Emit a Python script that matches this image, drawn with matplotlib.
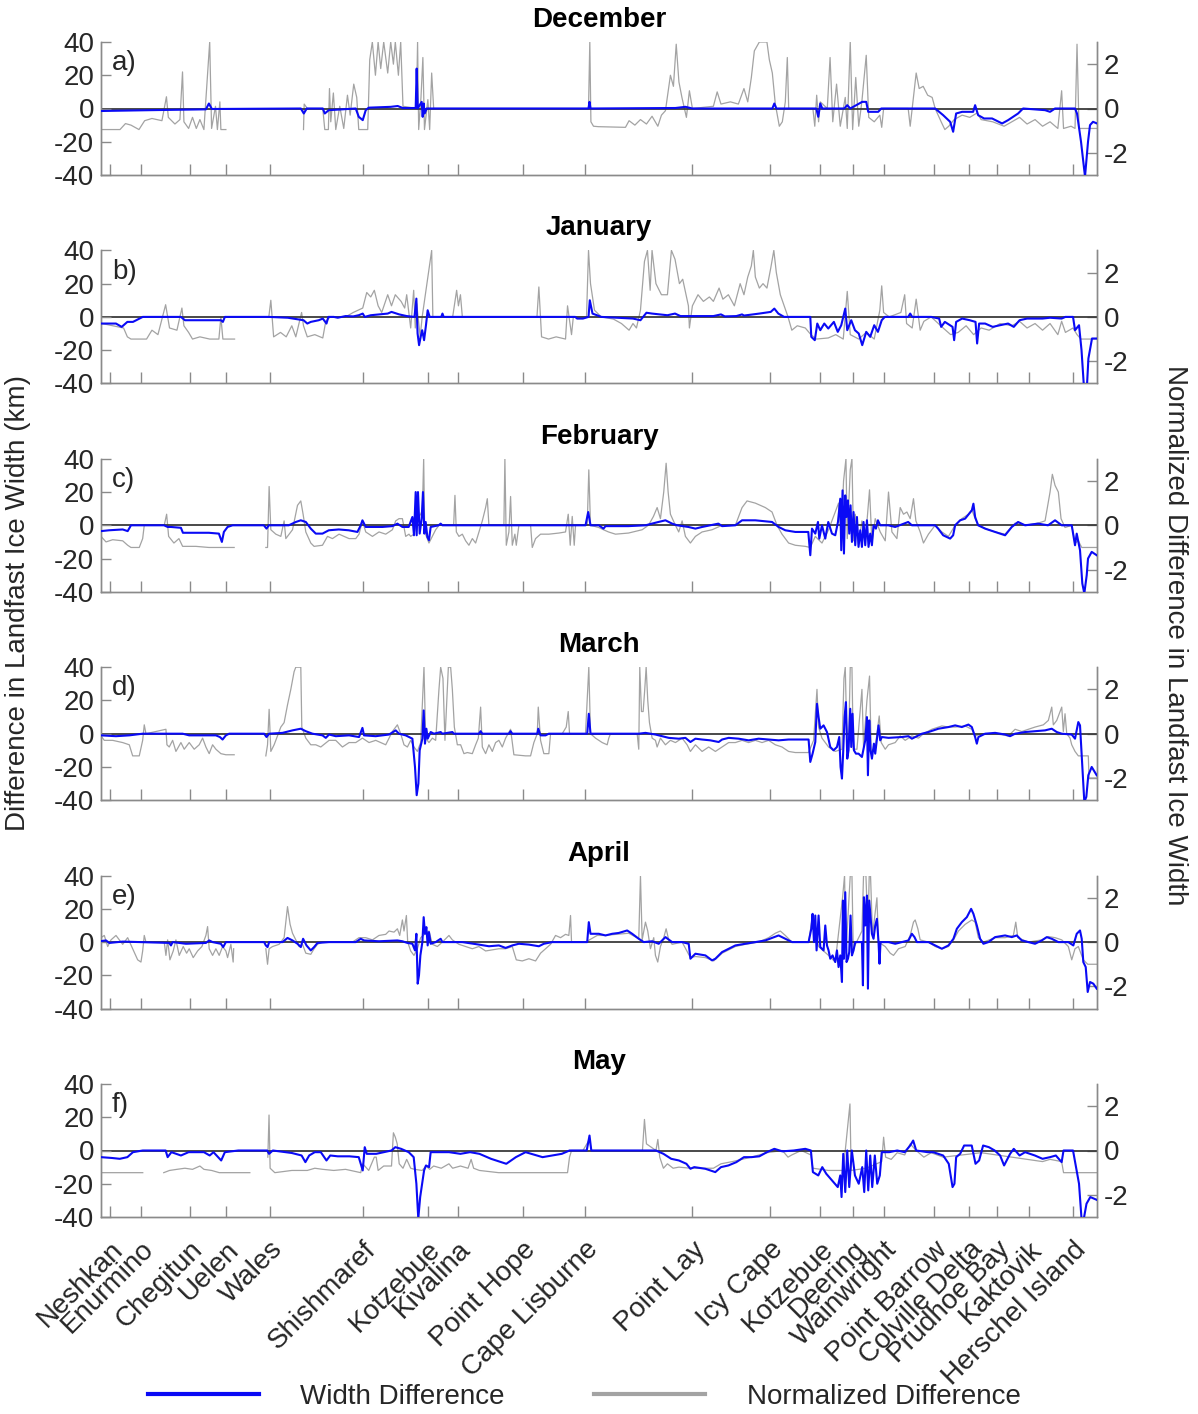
import numpy as np
import matplotlib
matplotlib.use("Agg")
import matplotlib.pyplot as plt
from matplotlib.lines import Line2D

nan = np.nan

locations = ["Neshkan", "Enurmino", "Chegitun", "Uelen", "Wales", "Shishmaref", "Kotzebue",
             "Kivalina", "Point Hope", "Cape Lisburne", "Point Lay", "Icy Cape", "Kotzebue",
             "Deering", "Wainwright", "Point Barrow", "Colville Delta", "Prudhoe Bay",
             "Kaktovik", "Herschel Island"]
location_pos = [9, 40, 89, 125, 169, 262, 327, 357, 422, 484, 592, 670, 720, 753, 784,
                834, 869, 897, 929, 973]
months = ["December", "January", "February", "March", "April", "May"]
panel_tags = ["a)", "b)", "c)", "d)", "e)", "f)"]

# (coast position, width difference km)
dec_width = [(0,-1.5),(50,-1),(105,-0.5),(108,3),(111,-0.3),(200,0),(203,-3),(206,0),(222,0),(224,-3),(228,-1),(255,0),(258,-5),(262,-7),(265,-1),(268,0.5),(290,1),(297,1.5),(302,0.3),(315,0.3),(316,24),(317,0),(321,4),(322,-5),(323,3),(324,-3),(326,0),(488,0),(489,4),(490,0),(575,0.3),(585,1),(592,0),(672,0),(674,3),(676,0),(716,0),(718,-5),(720,3),(722,0),(744,0),(747,2),(750,0),(762,4),(766,4),(768,-2),(778,-2),(781,0),(835,0),(843,-4),(850,-8),(853,-14),(856,-3),(862,-2),(873,-2),(875,2),(878,-4),(884,-6),(892,-6),(902,-9),(908,-7),(918,-3),(923,0),(945,-1),(950,-2),(955,0),(975,0),(977,-3),(981,-20),(985,-41),(988,-20),(990,-10),(993,-8),(997,-9)]
# (coast position, normalized difference)
dec_norm = [(1,-0.95),(19,-0.95),(24.5,-0.68),(30,-0.75),(38,-0.95),(43.7,-0.55),(51,-0.45),(61,-0.55),(65.5,0.53),(67.4,-0.4),(74,-0.7),(79,-0.5),(81.6,1.65),(83,-0.6),(87.7,-0.9),(91.6,-0.4),(95.4,-0.9),(99,-0.5),(103,-0.95),(108.8,3.0),(110.7,-0.9),(114.6,0.1),(116.5,-0.95),(119,0.3),(120,-0.95),(125,-0.95),(125.5,nan),(202.7,-0.95),(203.4,0.2),(206.5,0),(222,0),(224,-0.95),(227.6,-0.95),(228.7,0.9),(230,-0.6),(232.6,0.7),(235,-0.95),(239,0.1),(243,-0.9),(246.7,0.6),(249.4,-0.3),(253,1.1),(256,0.5),(258,-0.95),(267,-0.95),(269,2.2),(271.6,3.0),(274.7,1.5),(277.4,3.0),(280,1.8),(283,3.0),(287,1.6),(290,3.0),(292.7,2.0),(294.6,3.0),(297.7,1.5),(300,3.0),(302.3,0.1),(315.7,0),(316.9,3.0),(318,-0.95),(320.3,0.5),(322.2,2.3),(323.8,-0.95),(327.2,0.4),(329,-0.95),(331,1.6),(333,0),(488,0),(489.3,3.0),(490.4,-0.6),(493,-0.8),(498,-0.82),(525,-0.85),(528.6,-0.55),(534.4,-0.75),(540,-0.5),(546,-0.7),(551.6,-0.35),(557.4,-0.8),(561,-0.3),(565,-0.1),(570,1.5),(573,1.0),(575.8,2.9),(578.5,1.2),(581.5,0.5),(586,-0.4),(589,0.8),(592,0),(613,0.1),(616.8,0.75),(620.6,0.2),(630,0.3),(638,0.2),(643.6,0.9),(647.4,0.3),(651,1.4),(654,2.6),(659,3.0),(666.6,3.0),(669,2.2),(672,1.6),(675,0.2),(679,-0.8),(682,-0.6),(685,0.3),(687,2.3),(688.4,0),(712.6,0),(714.5,-0.8),(716.4,0.6),(718.3,-0.6),(720,0.3),(727,0),(729.8,2.3),(732.5,-0.6),(736.3,1.1),(740,-0.8),(745,0.5),(747,-0.9),(750,3.0),(752.4,-0.95),(755.5,1.4),(758.5,-0.8),(761.6,0.3),(766,2.4),(768.5,-0.4),(774,-0.6),(779.6,-0.3),(781.5,-0.85),(783.4,0),(808,0),(810,-0.8),(812,0),(816,1.6),(819,0.9),(823,1.0),(827.5,0.6),(832,0.5),(835,0),(841,-0.6),(844.7,-0.95),(848.6,-0.8),(854,-0.5),(862,-0.3),(869.6,-0.4),(877,-0.2),(881,-0.5),(892.6,-0.6),(904,-0.8),(911.8,-0.6),(919.5,-0.4),(927,-0.7),(935,-0.5),(942.5,-0.8),(950,-0.6),(957.8,-0.9),(961.6,0.8),(963.5,-0.9),(971,-0.8),(975,-0.9),(977,2.9),(979,-0.9),(998,-0.9)]

jan_width = [(0,-4),(15,-4),(20.7,-6),(26.4,-3),(32,-3),(41.8,0),(80,0),(84,-2),(107,-2),(120,-2),(122,-3),(124,0),(168,0),(187,-0.5),(202.7,-2),(206.5,-4),(210,-3),(218,-2),(222,-1),(225.7,-4),(227.6,0),(233,0),(237,-0.5),(244.8,0.5),(252.5,0.3),(258,1),(262,2),(264,0),(270,1),(279,1.5),(287,2),(290.8,3),(298.5,1.5),(306,0.5),(313.8,0),(315.7,11),(316.9,-10),(318.4,-17),(320,-12),(321.5,-8),(323.4,-14),(325.3,-5),(327,4),(329,0),(340.6,0),(341.8,2),(343,0),(474.7,0),(476.6,-1),(482.4,-1),(488,0),(489.3,10),(492,2),(500.8,0),(532.5,-1),(540,-2),(546,2.5),(551.6,2),(567,1),(574.6,2),(580,0.5),(613,0.5),(620.6,1.5),(624.4,0.3),(636,0.5),(641.7,1.5),(643.6,0.8),(659,2),(670.4,3),(674,5),(678,2),(683.8,0),(710,0),(711,-12),(714.5,-14),(717,-4),(720,-8),(724,-4),(728,-7),(733.6,-3),(737.5,-9),(741,-5),(745,5),(747,-8),(751,-2),(754.7,-8),(758.5,-10),(762,-17),(766,-9),(770,-12),(774,-5),(777.7,-9),(781.5,-2),(784.6,0),(808,0),(810,2),(812,0),(831,0),(839,-1),(841,-6),(844.7,-3),(852.4,-6),(854,-14),(856,-3),(862,-1),(869.6,-2),(875.4,-3),(877,-16),(879,-4),(885,-4),(892.6,-6),(900,-5),(908,-4),(913.7,-6),(919.5,-2),(927,-1),(942.5,-1),(950,-0.5),(961.6,-1),(965.4,0),(973,0),(975,-8),(979,-5),(981.5,-20),(983.8,-41),(987,-41),(988.4,-25),(992,-13),(998,-13)]
jan_norm = [(1,-0.3),(22.6,-0.5),(26.4,-0.9),(30,-1.0),(45.6,-1.0),(51,-0.6),(57,-0.8),(64.7,0.55),(68.6,-0.5),(76,-0.6),(81,0.4),(83,-0.4),(87.7,-0.7),(91.6,-1.0),(99,-0.9),(108.8,-1.0),(118,-1.0),(120,0),(122,-1.0),(133.7,-1.0),(134,nan),(168,0),(170,0.75),(172.8,-0.9),(179.7,-0.7),(185.4,-0.9),(191,-0.4),(195,-0.9),(200.8,0.2),(202.7,-0.4),(206.5,-0.9),(214,-0.8),(222,-0.95),(225,-0.2),(229.5,0),(244.8,0),(252.5,0.2),(262,0.4),(266,1.1),(270,0.9),(273.6,1.2),(277.4,0.5),(281,0.2),(287,1.0),(290.8,0.5),(294.6,1.0),(300.4,0.7),(304,0.4),(306,1.0),(310,-0.5),(313,1.2),(314.6,-0.5),(316,0.6),(319.5,-0.9),(321.5,0),(331,3.0),(332.2,0),(352,0),(356,1.2),(357.8,0.5),(359.8,1.0),(361.7,0),(436.4,0),(438.3,1.35),(441,-0.9),(448,-1.0),(455.6,-0.9),(465,-1.0),(467,0.5),(471,-0.8),(472.8,0),(486,0),(488,3.0),(490,1.5),(494,0.3),(500.8,0),(513,-0.1),(521,-0.3),(528.6,-0.6),(532.5,-0.3),(536,-0.5),(540,0.3),(544,2.5),(547,3.0),(549.7,1.2),(551.6,3.0),(555.5,1.5),(561,1.0),(567,1.0),(571,3.0),(574.6,2.6),(579,1.5),(582.3,1.7),(588,0.5),(589,-0.5),(592,0.5),(597.6,1.0),(603,0.7),(609,0.9),(613,0.7),(618.7,1.3),(622.5,0.8),(628,1.0),(634,0.5),(639.8,1.5),(643.6,1.0),(647.4,1.8),(651,2.3),(653,3.0),(655,1.8),(659,1.3),(662.7,1.5),(666.6,1.3),(670.4,2.2),(673.5,3.0),(676,2.0),(680,1.0),(683.8,0.5),(687.7,0),(691.5,-0.6),(697,-0.4),(705,-0.5),(710.6,-0.8),(716,-1.0),(728,-0.95),(735.5,-0.8),(743,-1.0),(747,1.15),(750,-0.8),(758.5,-1.0),(766,-0.7),(774,-1.0),(779.6,0.3),(781.5,1.4),(783.4,0.2),(789,0),(800.7,0.2),(804.5,1.0),(806.4,-0.3),(812,-0.5),(816,0.8),(820,-0.6),(823.7,-0.2),(831,0),(843,-0.5),(850.5,-0.8),(858,-0.7),(866,-0.4),(873.5,-0.8),(881,-0.5),(889,-0.6),(900,-0.3),(911.8,-0.4),(919.5,-0.2),(927,-0.5),(935,-0.3),(942.5,-0.6),(950,-0.3),(957.8,-0.8),(961.6,-0.2),(965.4,-0.7),(973,-0.5),(977,-0.8),(981,-1.0),(998,-1.0)]

feb_width = [(0,-3.5),(8,-3),(21.7,-2.5),(26.7,-3.5),(30,0),(63,0),(66.7,-1),(70,-1),(80,-1.5),(82,-4.5),(95,-4.5),(108,-4.5),(118,-5),(121,-10),(123,-4),(126.7,-1),(131.7,0),(163,0),(165.7,-2),(168,0),(188,0),(195,2),(200,3),(205,2),(210,-2),(215,-5),(221.7,-5),(228,-3),(238,-2.5),(248,-3),(256.7,-4),(260,0),(261.7,3),(265,-1),(271.7,-1),(281.7,-1),(291.7,-0.5),(296.7,1),(301.7,-1),(308,-1),(311.7,5),(313.3,-6),(315,20),(316,-6),(317.3,20),(319,-5),(321,4),(322.3,20),(323.7,-5),(325,2),(326.7,-7),(328.3,-9),(330,-1),(338,0),(340,1),(341.7,0),(485,0),(487.7,8),(490,0),(498.3,0),(503,-2),(505,-0.5),(528,-0.5),(545,0),(558,2),(565,3),(571.7,1),(576.7,0),(588,-1),(595,-2),(601.7,-1),(618,1),(621.7,-0.5),(635,0),(641.7,3),(655,3),(671.7,2),(678.3,-1),(685,-3),(695,-4),(708,-4),(710,-18),(711.7,-2),(715,-5),(717.7,2),(719,-8),(721.7,0),(725,-8),(728,2),(731.7,-5),(735,-6),(737.7,2),(740,16),(741,-15),(742.3,21),(743.7,-17),(745,18),(746.3,5),(747.7,15),(749,-5),(750.3,12),(751.7,-10),(753.3,8),(755,-12),(756.7,5),(758.3,-13),(760,-3),(761.7,-13),(763.3,2),(765,-12),(766.7,3),(768.3,-13),(770,-5),(771.7,-12),(773.3,0),(775.7,-2),(777.7,3),(780,0),(788,0),(795,-1),(808,2),(811.7,0),(835,0),(838,-2),(843,-6),(850,-8),(853,-6),(855,0),(860,3),(865,4),(871.7,9),(873.3,13),(875,5),(878,0),(885,-2),(895,-4),(905,-6),(911.7,-1),(918,2),(925,0),(938,1),(948,0),(955,3),(961.7,0),(971.7,0),(975,-12),(976.7,-5),(980,-15),(982.3,-35),(984.3,-41),(986.7,-30),(988,-20),(991.7,-16),(996.7,-18)]
feb_norm = [(0,-0.5),(5,-0.75),(11.7,-0.65),(21.7,-0.7),(26.7,-0.9),(30,-1.0),(38.3,-1.0),(41.7,-0.6),(43.3,0),(63.3,0),(65.7,0.5),(67.7,-0.5),(73,-0.8),(78,-0.6),(81.7,-0.95),(95,-0.95),(108,-1.0),(121.7,-1.0),(133.3,-1.0),(134,nan),(165,-1.0),(166.7,-1.0),(168.3,1.75),(170,-0.2),(175,-0.4),(180,-0.5),(183.3,0.2),(185,-0.6),(191.7,-0.2),(196.7,0.9),(200,1.1),(202.3,0.5),(205,-0.3),(210,-0.8),(213.3,-0.95),(221.7,-0.9),(226.7,-0.5),(231.7,-0.6),(238.3,-0.4),(248.3,-0.6),(255,-0.6),(258.3,-0.4),(261.7,0.2),(265,-0.3),(271.7,-0.5),(278.3,-0.3),(285,-0.4),(291.7,-0.2),(295,0.2),(298.3,0.3),(301.7,0.3),(305,-0.5),(308.3,-0.4),(310,-0.5),(313.3,-0.4),(316.7,0.3),(320,0.5),(321.7,0.7),(323,3.0),(324,-0.3),(328.3,-0.8),(331.7,-0.5),(335,-0.2),(338.3,0),(353,0),(354.3,1.35),(355.7,-0.3),(358.3,-0.5),(361.7,-0.4),(365,-0.7),(368.3,-0.9),(371.7,-0.6),(375,-0.8),(378.3,-0.3),(381.7,0.2),(385,0.8),(386.7,1.2),(388.3,0),(403.3,0),(404.3,3.0),(405.7,-0.9),(408.3,-0.3),(410,1.3),(411.7,-0.9),(414.3,-0.4),(415.7,-0.9),(418.3,0),(430,0),(431.7,-1.0),(435,-0.6),(440,-0.4),(448.3,-0.4),(458.3,-0.35),(465,-0.3),(467.7,0.5),(469.7,-0.9),(471.7,0.4),(473.7,-0.9),(475,0),(486.7,0),(488.3,2.5),(490,0),(498.3,-0.1),(503,-0.2),(508,-0.3),(515,-0.4),(528,-0.35),(541.7,-0.2),(548,0),(553,0.4),(556.7,0.8),(560,0.3),(563.3,1.5),(565.7,2.8),(567.7,1.5),(570,0.5),(575,0),(578.3,-0.3),(581.7,0.2),(585,-0.5),(590,-0.8),(595,-0.5),(601.7,-0.3),(611.7,-0.2),(621.7,0),(635,0),(641.7,0.8),(646.7,1.1),(655,1.0),(665,0.8),(671.7,0.6),(676.7,0),(681.7,-0.4),(688.3,-0.8),(695,-0.9),(705,-0.95),(710,-1.0),(715,-0.5),(721.7,-0.8),(728.3,-0.2),(738.3,1.0),(741,-0.5),(743.3,2.0),(745.7,3.0),(747,-0.6),(750,2.5),(751.7,3.0),(753.3,-0.7),(755,0.5),(758.3,-0.9),(761.7,0.2),(765,-0.8),(769.3,1.6),(771.7,-0.8),(775,0.3),(780,-0.3),(785,-0.7),(788.3,1.5),(791.7,-0.3),(796.7,-0.6),(800,0.8),(803.3,0.5),(806.7,0.6),(810,0.3),(813.3,1.2),(815.7,0.2),(820,-0.3),(823.3,-0.8),(828.3,-0.4),(835,0),(841.7,-0.3),(848.3,-0.5),(855,0),(861.7,0.3),(868.3,0.5),(871.7,0.7),(875,0.3),(878.3,0),(888.3,-0.2),(895,-0.3),(905,-0.4),(915,0.1),(925,0),(938.3,0.1),(945,0.2),(950,1.5),(952.3,2.3),(955,1.8),(958.3,1.5),(961,0.3),(965,-0.1),(971.7,0),(975,-0.8),(978.3,-0.7),(981.7,-1.0),(996.7,-1.0)]

mar_width = [(0,-1),(15,-1.5),(28.3,-1),(41.7,0),(81.7,0),(88.3,-1),(115,-1),(119,-2),(121.7,-3.5),(125,-1),(128.3,0),(163.3,0),(165.7,-2),(168.3,0),(181.7,0.5),(191.7,2),(200,3),(205,1.5),(211.7,0),(221.7,-1),(225,-2.5),(228.3,-0.5),(235,-1.5),(248.3,-1),(258.3,-2),(261.7,3.5),(263.3,-1),(275,-1.5),(288.3,-0.5),(295,2),(298.3,0),(305,-1),(311.7,-3),(314.3,-20),(316,-37),(317.7,-30),(319,-10),(321.7,-3),(323,14),(324.3,-6),(325.7,3),(327,-3),(330,1),(333.3,0),(340,1),(341.7,0),(351.7,1),(353.3,0),(378.3,0),(380,1.5),(381.7,0),(408.3,0),(410,1.5),(411.7,0),(436.7,0),(437.7,3),(440,-1),(445,-1),(448.3,0),(486.7,0),(488.3,12),(490,0),(538.3,0),(545,0.5),(555,-0.5),(561.7,-1.5),(568.3,-2.5),(578.3,-3),(585,-2.5),(590,-5),(595,-3),(601.7,-3.5),(610,-4),(618.3,-5),(621.7,-3.5),(628.3,-2.5),(638.3,-3),(648.3,-4),(658.3,-3),(668.3,-3.5),(678.3,-4),(688.3,-3.5),(698.3,-3.5),(708.3,-3.5),(710,-17),(712.3,-12),(715,-5),(716.7,18),(718.3,10),(720,3),(723.3,5),(726.7,1),(730,-8),(733.3,-10),(736.7,-8),(739,-2),(740.3,-20),(741.7,-27),(743,-10),(744.3,10),(745.7,19),(747,-15),(748.3,-10),(750,15),(751,-8),(752.3,12),(753.7,-10),(755.7,-12),(758.3,-12),(761.7,-14),(763.7,-8),(765,-4),(766.7,10),(767.7,-25),(769,8),(770.3,-10),(771.7,-15),(773.7,-6),(775,-12),(776.7,-3),(778.3,5),(780,-4),(781.7,-2),(788.3,-2.5),(801.7,-2),(808.3,-1.5),(811.7,-3),(815,-2),(821.7,0),(828.3,1),(838.3,3),(848.3,4),(855,5),(861.7,4),(868.3,5.5),(871.7,4),(875,-2),(876.7,-6),(878.3,-2),(885,0),(895,0.5),(905,-0.5),(910,-1.5),(915,0),(925,1),(935,1.5),(945,2),(951.7,3),(956.7,1),(961.7,0),(971.7,-0.5),(975,-3),(978.3,7),(980,5),(982.3,-20),(984.3,-41),(986.3,-38),(988.3,-25),(991.7,-20),(996.7,-25)]
mar_norm = [(0,-0.1),(3.3,-0.3),(11.7,-0.3),(21.7,-0.4),(28.3,-0.5),(31.7,-1.0),(38.3,-1.0),(41.7,-0.3),(43.3,0.4),(45,0),(65,0.2),(66,-0.5),(68.3,-0.6),(71.7,-0.3),(75,-0.8),(80,-0.4),(83.3,-0.7),(88.3,-0.4),(93.3,-0.7),(98.3,-0.5),(101.7,-0.2),(105,-0.6),(108.3,-0.9),(111.7,-0.5),(115,-0.7),(120,-0.9),(125,-0.95),(133.3,-0.95),(134,nan),(165,-1.0),(166.7,-0.5),(168.3,1.1),(170,-0.8),(173.3,-0.5),(176.7,-0.1),(180,0.3),(183.3,0.5),(186.7,1.3),(190,2.0),(193.3,2.8),(195,3.0),(200,3.0),(201,0.3),(205,-0.2),(210,-0.5),(215,-0.5),(220,-0.6),(228.3,-0.3),(235,-0.3),(241.7,-0.6),(248.3,-0.4),(255,-0.4),(261.7,-0.2),(268.3,-0.4),(275,-0.3),(285,-0.5),(291.7,0.1),(296.7,0.4),(300,0),(303.3,-0.5),(306.7,-0.6),(310,-0.3),(313.3,-0.6),(316.7,-0.8),(320,-0.4),(323.3,3.0),(325,-0.2),(328.3,-0.4),(331.7,-0.2),(335,-0.3),(338.3,2.0),(340,3.0),(342.3,2.5),(344.3,-0.3),(347.7,3.0),(350,3.0),(351.7,2.0),(353.7,0.3),(356.7,-0.5),(360,-0.5),(363.3,-0.9),(366.7,-0.85),(371.7,-0.9),(375,-0.5),(377.7,-0.2),(380,1.2),(381.7,-0.6),(385,-0.9),(388.3,-0.5),(391.7,-0.8),(395,-0.4),(398.3,-0.3),(401.7,-0.6),(405,-0.2),(410,0.2),(413.3,-0.95),(425,-1.0),(430,-1.0),(433.3,-0.4),(436.7,0),(437.7,1.2),(440,-0.3),(443.3,-0.9),(448.3,-0.9),(450,0),(461.7,0),(465.7,0.3),(467.7,1.0),(469,0),(485,0),(488.3,3.0),(490,0),(495,-0.2),(501.7,-0.4),(506.7,-0.5),(508.3,-0.2),(510,0),(536.7,0),(538.3,-0.7),(539.3,3.0),(541,1.0),(542.7,1.0),(544.3,2.0),(545.7,3.0),(547.3,1.5),(549,0.5),(551.7,-0.2),(555,-0.3),(556.7,-0.6),(560,-0.2),(565,-0.5),(570,-0.3),(575,-0.4),(581.7,-0.2),(586.7,-0.5),(590,-0.8),(595,-0.5),(601.7,-0.8),(608.3,-0.6),(615,-0.8),(621.7,-0.6),(628.3,-0.4),(635,-0.4),(641.7,-0.3),(648.3,-0.4),(655,-0.3),(661.7,-0.4),(668.3,-0.3),(675,-0.5),(681.7,-0.6),(688.3,-0.8),(695,-0.85),(701.7,-0.85),(708.3,-0.85),(713.3,-0.3),(716.7,2.0),(718.3,0.3),(721.7,-0.2),(728.3,-0.6),(735,-0.8),(741.7,-0.7),(743.7,2.5),(745,3.0),(746.3,0.5),(748.3,-0.6),(750,3.0),(751.7,3.0),(753,-0.7),(756.7,-0.7),(761.7,2.0),(763.3,-0.6),(766.7,1.5),(769.3,2.6),(771,-0.8),(775,-0.6),(779,0.8),(781,-0.4),(785,-0.7),(788.3,-0.5),(795,-0.4),(800,-0.1),(805,-0.3),(811.7,-0.1),(818.3,-0.2),(823.3,0),(831.7,0.2),(841.7,0.35),(848.3,0.3),(855,0.3),(865,0.35),(871.7,0.2),(875,-0.1),(881.7,0),(895,0),(908.3,-0.1),(915,0.2),(921.7,0.1),(928.3,0.2),(935,0.3),(943.3,0.4),(948.3,0.6),(951.7,1.2),(953.3,0.4),(956.7,0.6),(961.7,1.2),(963.3,0.1),(965,0.9),(966.7,0),(970,-0.2),(971.7,-0.5),(975,-0.8),(978.3,-1.0),(988.3,-1.0),(989,-2.0),(996.7,-2.0)]

apr_width = [(0,0.6),(5,1),(8.3,-0.5),(21.7,0.3),(38.3,0),(68.3,-0.5),(70,-2),(71.7,0),(85,-1),(105,-0.5),(108.3,1),(111.7,0),(120,-1),(122.3,-3),(125,0),(163.3,0),(165,-2),(166.7,-3),(168.3,0),(181.7,0),(186.7,2.5),(191.7,1),(196.7,-1),(200,-3),(202.3,2),(205.7,-2),(210,-5),(213.3,-3),(216.7,-0.5),(228.3,0),(255,0),(260,2),(263.3,1),(278.3,0.5),(296.7,1),(301.7,0.5),(306.7,-0.5),(311.7,-1),(314.3,-5),(315.7,5),(317,-25),(318.3,-20),(319.7,-8),(321.7,0),(323,15),(324.3,5),(325.7,9),(327,-2),(328.3,6),(330,-1),(335,0),(340,2),(341.7,0),(361.7,0),(378.3,-1.5),(388.3,-2.5),(398.3,-2),(405,-3.5),(411.7,-2),(418.3,-1),(428.3,-1.5),(438.3,-2.5),(443.3,-1),(451.7,0),(486.7,0),(488.3,12),(490,5),(498.3,5),(505,4),(511.7,5),(518.3,5.5),(526.7,7),(531.7,5),(538.3,2),(543.3,0),(551.7,0.5),(558.3,-1),(565,3),(571.7,0),(581.7,0),(588.3,-1),(590,-10),(595,-7),(605,-8),(611.7,-11),(615,-10),(621.7,-6),(628.3,-4),(635,-2),(645,-1),(655,0),(665,1),(671.7,2.5),(678.3,4),(685,2),(691.7,0),(708.3,0),(711,8),(712.3,17),(713.7,0),(715,16),(716.3,-5),(718.3,16),(720,-3),(723.3,-5),(725,10),(726.7,-2),(728.3,-5),(730,-10),(732.3,-8),(735,-12),(736.7,-5),(738.3,-15),(740,-8),(741.7,-24),(742.7,25),(743.7,-10),(745,30),(746.3,-12),(747.7,-10),(749,-6),(750.3,16),(751.7,-8),(753.3,-5),(755,0),(761.7,0),(762.7,-26),(763.7,27),(765,10),(766.7,28),(767.7,-28),(769,25),(770.3,15),(771.7,5),(773.3,2),(775,10),(776.7,14),(778.3,0),(779.3,-13),(780.3,0),(788.3,0),(795,-1),(801.7,0),(808.3,1),(811.7,5),(814.3,3),(816.7,0),(828.3,0),(835,-2),(841.7,-4),(848.3,-2),(853.3,2),(856.7,8),(861.7,12),(866.7,15),(871,20),(873.3,17),(876.7,10),(880,2),(883.3,-1),(888.3,0),(895,3),(905,4),(911.7,3),(916.7,4),(921.7,1),(928.3,0),(935,-1),(941.7,1),(946.7,3),(951.7,2),(958.3,0),(968.3,0),(973.3,-2),(976.7,5),(980,7),(981.7,2),(983.3,-12),(985.7,-15),(987.7,-30),(990,-24),(993.3,-25),(996.7,-28)]
apr_norm = [(0,0.2),(3.3,0.3),(6.7,-0.2),(10,0.1),(15,0.3),(21.7,-0.1),(26.7,0.2),(31.7,-0.3),(36.7,-0.8),(40,-0.9),(41.7,-0.4),(43.3,0.3),(45,0),(63.3,0),(65,-0.6),(66.7,0.1),(69,-0.8),(72.3,-0.4),(75,0.1),(78.3,-0.6),(82.3,-0.2),(85.7,-0.5),(88.3,-0.3),(92.3,-0.7),(96.7,-0.4),(101,-0.2),(105,0.3),(106.7,0.7),(108.3,-0.3),(111.7,-0.6),(115,-0.3),(118.3,-0.6),(121.7,-0.2),(125,-0.4),(126.7,-0.7),(130,-0.1),(132.3,-0.9),(132.8,-0.3),(133,nan),(165,-0.3),(166.7,-1.0),(168.3,-0.3),(171.7,-0.2),(178.3,-0.1),(183.3,0.2),(186.7,1.6),(189.3,0.8),(191.7,0.4),(195,0.1),(198.3,-0.2),(201.7,-0.1),(205,-0.5),(210,-0.55),(213.3,-0.3),(216.7,-0.1),(221.7,0),(251.7,0),(258.3,0.2),(265,0.2),(271.7,0.1),(278.3,0.3),(285,0.35),(288.3,0.5),(293.3,0.45),(296.7,0.6),(299,0.3),(301.7,1.0),(303.3,0.5),(305.7,1.2),(307,0),(310,-0.4),(313.3,-0.6),(316.7,-0.3),(320,0.2),(325,0.4),(328.3,0.5),(331.7,-0.1),(336.7,-0.2),(341.7,0),(348.3,0.3),(351.7,0.1),(358.3,-0.1),(365,-0.2),(371.7,-0.3),(378.3,-0.2),(385,-0.4),(391.7,-0.35),(398.3,-0.3),(405,-0.3),(411.7,-0.2),(415.7,-0.8),(421.7,-0.85),(428.3,-0.75),(435,-0.85),(440,-0.5),(445,-0.3),(450,-0.1),(455,0.3),(460,0.2),(465,0.35),(468.3,0.3),(470,1.2),(471,0),(485,0),(496.7,0.3),(503.3,0.3),(528.3,0.4),(538.3,0.15),(540,3.0),(541.7,0.1),(545,0.9),(547.3,0.5),(550,-0.3),(553.3,0.2),(555,-0.6),(557.3,-0.9),(560,-0.2),(563.3,0.2),(565.7,0.6),(568.3,0.1),(571.7,-0.1),(581.7,0),(590,-0.7),(595,-0.65),(605,-0.7),(613.3,-0.85),(621.7,-0.5),(635,-0.2),(645,-0.1),(658.3,0),(668.3,0.2),(675,0.4),(680,0.5),(685,0.3),(691.7,0),(708.3,0),(711.7,1.0),(715,0.5),(718.3,-0.2),(728.3,-0.6),(735,-0.9),(742.3,2.0),(744.3,3.0),(745.7,-0.5),(750,3.0),(751.7,3.0),(753,-0.3),(761.7,0.5),(763.3,3.0),(765.7,3.0),(767.7,0.5),(769,3.0),(770.3,3.0),(772.3,0.3),(776.7,2.0),(778.3,0),(785,-0.2),(790,-0.5),(793.3,-0.6),(798.3,-0.3),(805,-0.2),(810,0.3),(813.3,0.9),(815,1.0),(817.7,0.6),(820,0.1),(828.3,0),(835,-0.2),(841.7,-0.3),(848.3,-0.2),(853.3,0.1),(858.3,0.5),(865,0.8),(871.7,1.0),(875,0.9),(878.3,0.2),(883.3,0),(895,0.2),(905,0.2),(913.3,0.3),(915.7,0.9),(917.7,0.2),(928.3,0),(941.7,0.1),(948.3,0.25),(955,0.2),(961.7,0.1),(968.3,-0.2),(971.7,-0.8),(975,-0.3),(978.3,-0.2),(983.3,-0.8),(987.7,-1.0),(996.7,-1.0)]

may_width = [(0,-4),(11,-4.5),(18.8,-5),(26.4,-4),(32,-1),(41.8,0),(64.7,0),(66.7,-4),(70.5,-1),(80,-3),(87.7,-1),(103,-1),(108.8,-3),(112.6,-1),(120.3,-6),(124,-1),(137.5,0),(166.3,0),(168.2,-2),(172,0),(191,-1.5),(200.8,-3),(204.6,-7),(208.4,-3),(214,-1),(220,-1),(225.7,-6),(229.5,-3),(237,-3.5),(248.7,-3.5),(258,-4),(262,-12),(264,2),(266,-2),(275.5,-2),(283,-1),(290.8,0),(294.6,2),(300.4,1),(308,-1),(313,-4),(315.7,-20),(317.6,-41),(319.5,-28),(321.5,-20),(323.4,-12),(325.3,-9),(328.4,-10),(330,-1),(348.3,-1),(359.8,-2),(369.4,-1),(378.8,-2),(390.4,-5),(405.7,-8),(415.3,-4),(425,-1),(436.4,-3),(442,-4),(451.7,-3),(461.3,-2),(469,0),(486.2,0),(489,9),(490.8,0),(555.5,0),(563,-2),(570.8,-5),(578.5,-6),(586,-8),(590,-11),(593.8,-10),(605,-11),(614.9,-13),(620.6,-10),(628,-9),(636,-7),(643.6,-4),(651,-4),(659,-3.5),(666.6,-1),(674,1),(682,-0.5),(693.4,0),(705,1),(710.6,0),(712.6,-13),(718,-15),(722,-10),(726,-14),(731.7,-18),(737.5,-22),(740,-15),(741.3,-28),(743,-2),(745,-25),(747,0),(749,-22),(751.6,0),(754.7,-15),(758.5,-20),(762,-10),(764,-25),(766,0),(768,-24),(770,-3),(772,-22),(774.6,-3),(777,-20),(779.6,-15),(781.5,-1),(789,-1),(797,0),(804.5,-1),(810,3),(813,6),(816,0),(827.5,-1),(833,-1),(843,-3),(848.6,-8),(852.4,-22),(854.3,-20),(856,-4),(860,-2),(864,3),(871.6,3),(875.4,-8),(879,-6),(883,3),(888.8,2),(894.6,0),(900,-3),(904,-9),(910,-2),(913.7,1),(919.5,-3),(925,-1),(934.8,-3),(942.5,-5),(950,-4),(955.8,-3),(961.6,-7),(963.5,0),(973,0),(976,-10),(979,-20),(981.5,-41),(983.8,-41),(986.5,-32),(990.3,-28),(998,-30)]
may_norm = [(1,-1.0),(41.8,-1.0),(42.5,nan),(62.8,-1.0),(68.6,-0.9),(76,-0.85),(84,-0.8),(91.6,-0.85),(99,-0.7),(103,-0.85),(110.7,-0.9),(118.4,-1.0),(149,-1.0),(149.5,nan),(167,-0.3),(168.2,1.6),(169.3,-0.8),(174,-1.0),(191,-0.9),(202.7,-0.9),(206.5,-0.9),(214,-0.8),(222,-0.85),(233,-0.9),(244.8,-0.85),(260,-1.0),(262,-0.6),(268,-0.9),(273.6,-0.3),(275.5,-0.3),(277.4,-0.9),(283,-0.7),(290.8,-0.7),(292.7,0.8),(294.6,0.6),(296.5,0.3),(298.5,-0.6),(302.3,-0.8),(306,-0.4),(310,-0.8),(313.8,-0.85),(321.5,-0.9),(325.3,-0.7),(329,-0.85),(333,-0.7),(340.6,-0.8),(348.3,-0.6),(352,-0.8),(359.8,-0.7),(367.4,-0.8),(370.5,-0.4),(373,-0.8),(378.8,-0.9),(398,-1.0),(467,-1.0),(469,-0.3),(471,0),(482.4,0),(489,0.5),(490.8,0),(542,0),(544,1.4),(546,0.3),(555.5,0),(557.4,0.5),(559.3,-0.3),(563,-0.8),(567,-0.6),(572.7,-0.8),(578.5,-0.75),(590,-0.8),(613,-0.8),(620.6,-0.6),(632,-0.5),(651,-0.3),(666.6,-0.1),(682,0),(687.7,-0.3),(691.5,-0.2),(701,0),(710.6,-0.2),(712.6,-0.8),(728,-0.9),(735.5,-0.9),(743,-0.9),(749.7,2.1),(750.9,-0.9),(766,-0.8),(781.5,-0.5),(783.4,0.6),(785.4,-0.3),(791,-0.4),(797,-0.1),(804.5,-0.2),(810,0.3),(816,0),(823.7,-0.3),(831,-0.1),(843,-0.3),(881,-0.1),(942.5,-0.5),(950,-0.4),(961.6,-0.5),(963.5,-1.0),(998,-1.0)]

width_series = [dec_width, jan_width, feb_width, mar_width, apr_width, may_width]
norm_series = [dec_norm, jan_norm, feb_norm, mar_norm, apr_norm, may_norm]

plt.rcParams['font.family'] = ['Liberation Sans', 'DejaVu Sans']
plt.rcParams['axes.unicode_minus'] = False

BLUE = '#0a0af5'
GRAY = '#a3a3a3'
SPINE = '#8a8a8a'
TXT = '#262626'
FS = 20

W, H = 1198, 1414
fig = plt.figure(figsize=(W / 100, H / 100), dpi=100)

for i in range(6):
    bottom_px = 175 + 208.4 * i
    ax = fig.add_axes([101 / W, 1 - bottom_px / H, 996 / W, 133 / H])
    ax2 = ax.twinx()
    ax.set_zorder(ax2.get_zorder() + 1)
    ax.patch.set_visible(False)

    gx, gy = zip(*norm_series[i])
    ax2.plot(gx, gy, color=GRAY, lw=0.9)
    ax.axhline(0, color='#3a3a3a', lw=1.3, zorder=1)
    bx, by = zip(*width_series[i])
    ax.plot(bx, by, color=BLUE, lw=1.5, zorder=3)

    ax.set_xlim(0, 997)
    ax.set_ylim(-40, 40)
    ax2.set_ylim(-3, 3)
    ax.set_yticks([-40, -20, 0, 20, 40])
    ax2.set_yticks([-2, 0, 2])
    ax.set_xticks(location_pos)
    for a in (ax, ax2):
        a.spines['top'].set_visible(False)
        for s in ('left', 'right', 'bottom'):
            a.spines[s].set_color(SPINE)
            a.spines[s].set_linewidth(1.0)
    ax.tick_params(axis='y', direction='in', length=7, width=1, color=SPINE,
                   labelsize=FS, labelcolor=TXT, pad=5)
    ax2.tick_params(axis='y', direction='in', length=7, width=1, color=SPINE,
                    labelsize=FS, labelcolor=TXT, pad=5)
    ax.tick_params(axis='x', direction='in', length=8, width=1, color=SPINE,
                   labelsize=FS, labelcolor=TXT, pad=14)
    if i == 5:
        ax.set_xticklabels(locations, rotation=45, ha='right', rotation_mode='anchor')
    else:
        ax.set_xticklabels([])

    ax.text(0.5, 1.165, months[i], transform=ax.transAxes, ha='center', va='center',
            fontsize=FS, fontweight='bold', color='black')
    ax.text(0.011, 0.84, panel_tags[i], transform=ax.transAxes, ha='left', va='center',
            fontsize=FS, color=TXT)

fig.text(18 / W, 1 - 603 / H, 'Difference in Landfast Ice Width (km)', rotation=90,
         ha='center', va='center', fontsize=FS, color=TXT)
fig.text(1175 / W, 1 - 635 / H, 'Normalized Difference in Landfast Ice Width', rotation=-90,
         ha='center', va='center', fontsize=FS, color=TXT)

handles = [Line2D([], [], color=BLUE, lw=3), Line2D([], [], color=GRAY, lw=3)]
fig.legend(handles, ['Width Difference', 'Normalized Difference'], ncol=2, frameon=False,
           fontsize=FS, handlelength=4.0, handletextpad=1.5, columnspacing=3.2,
           loc='center', bbox_to_anchor=(584 / W, 1 - 1397 / H), labelcolor=TXT)

fig.savefig('out.png', dpi=100)
